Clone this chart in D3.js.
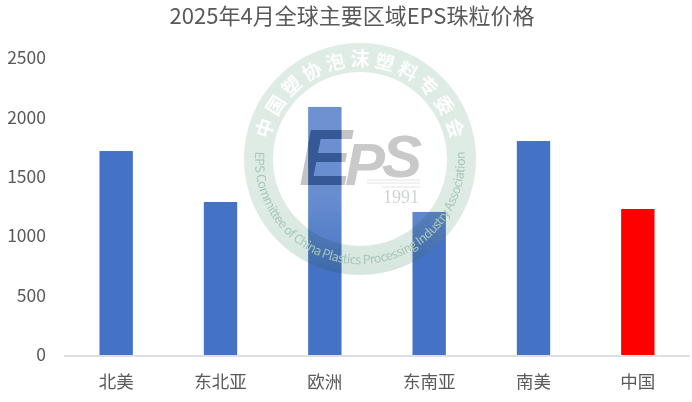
<!DOCTYPE html>
<html lang="zh">
<head>
<meta charset="utf-8">
<title>2025年4月全球主要区域EPS珠粒价格</title>
<script src="https://cdn.jsdelivr.net/npm/d3@7"></script>
<style>
	html, body { margin: 0; padding: 0; background: #fff; }
	svg { display: block; }
	text { font-family: "Noto Sans CJK SC", "Noto Sans", sans-serif; }
	.tick line, .domain { display: none; }
</style>
</head>
<body>
<div id="viz"></div>
<script>
const WIDTH = 692, HEIGHT = 402;
const margin = { top: 58, right: 2, bottom: 47, left: 64 };

const titleText = "2025年4月全球主要区域EPS珠粒价格";
const regions = ["北美", "东北亚", "欧洲", "东南亚", "南美", "中国"];
const prices = [1717, 1288, 2088, 1204, 1801, 1229];
const barColors = ["#4472c4", "#4472c4", "#4472c4", "#4472c4", "#4472c4", "#ff0000"];
const yTicks = [0, 500, 1000, 1500, 2000, 2500];

const svg = d3.select("#viz").append("svg")
	.attr("width", WIDTH)
	.attr("height", HEIGHT);

const x = d3.scaleBand()
	.domain(regions)
	.range([margin.left, WIDTH - margin.right])
	.paddingInner(0.68)
	.paddingOuter(0.34);

const y = d3.scaleLinear()
	.domain([0, 2500])
	.range([HEIGHT - margin.bottom, margin.top]);

svg.append("text")
	.attr("x", 352)
	.attr("y", 24)
	.attr("text-anchor", "middle")
	.attr("fill", "#595959")
	.style("font-size", "22px")
	.text(titleText);

// bars
svg.selectAll("rect.bar")
	.data(regions)
	.enter().append("rect")
	.attr("class", "bar")
	.attr("x", d => x(d))
	.attr("y", (d, i) => y(prices[i]))
	.attr("width", x.bandwidth())
	.attr("height", (d, i) => y(0) - y(prices[i]))
	.attr("fill", (d, i) => barColors[i]);

// axes
const yAxis = svg.append("g")
	.attr("transform", `translate(${margin.left},0)`)
	.call(d3.axisLeft(y).tickValues(yTicks).tickSize(0).tickPadding(18).tickFormat(d3.format("d")));
yAxis.selectAll("text")
	.attr("fill", "#595959")
	.style("font-size", "17.5px");

const xAxis = svg.append("g")
	.attr("transform", `translate(0,${y(0)})`)
	.call(d3.axisBottom(x).tickSize(0).tickPadding(21));
xAxis.selectAll("text")
	.attr("fill", "#595959")
	.style("font-size", "17.5px");

svg.append("line")
	.attr("x1", margin.left)
	.attr("x2", WIDTH - margin.right)
	.attr("y1", y(0) + 1)
	.attr("y2", y(0) + 1)
	.attr("stroke", "#d0d4da")
	.attr("stroke-width", 1.5);

// watermark logo
const cx = 360, cy = 159, rOuter = 116, rInner = 87;
const logo = svg.append("g").attr("transform", `translate(${cx},${cy})`);

const defs = svg.append("defs");
const fade = defs.append("linearGradient")
	.attr("id", "fade")
	.attr("x1", 0).attr("x2", 0).attr("y1", 0).attr("y2", 1);
fade.append("stop").attr("offset", "0%").attr("stop-color", "#fff").attr("stop-opacity", 0.24);
fade.append("stop").attr("offset", "65%").attr("stop-color", "#fff").attr("stop-opacity", 0.2);
fade.append("stop").attr("offset", "100%").attr("stop-color", "#fff").attr("stop-opacity", 0.02);

// the E keeps the bar dark under it, so the white veil skips it
const veilMask = defs.append("mask")
	.attr("id", "veil-mask")
	.attr("maskUnits", "userSpaceOnUse")
	.attr("x", -120).attr("y", -120).attr("width", 240).attr("height", 240);
veilMask.append("rect")
	.attr("x", -120).attr("y", -120).attr("width", 240).attr("height", 240)
	.attr("fill", "#fff");

function drawLetter(g, letter, lx, ly, size) {
	return g.append("text")
		.attr("x", lx).attr("y", ly)
		.style("font-family", "Liberation Sans")
		.style("font-size", size + "px")
		.style("font-weight", "700")
		.style("font-style", "italic")
		.text(letter);
}
drawLetter(veilMask, "E", -61, 26, 79).attr("fill", "#000");

// ring goes under the veil so it still reads on the bars
logo.append("path")
	.attr("d", d3.arc().innerRadius(rInner).outerRadius(rOuter).startAngle(0).endAngle(2 * Math.PI)())
	.attr("fill", "#d6e7df")
	.style("mix-blend-mode", "multiply");

logo.append("circle")
	.attr("r", rOuter)
	.attr("fill", "url(#fade)")
	.attr("mask", "url(#veil-mask)");

defs.append("path")
	.attr("id", "arcTop")
	.attr("d", "M -93 0 A 93 93 0 0 1 93 0");
defs.append("path")
	.attr("id", "arcBottom")
	.attr("d", "M -104.4 -11 A 105 105 0 1 0 104.4 -11");

logo.append("text")
	.attr("fill", "#fff")
	.attr("fill-opacity", 0.92)
	.style("font-size", "19px")
	.style("font-weight", "700")
	.append("textPath")
	.attr("href", "#arcTop")
	.attr("startOffset", "50%")
	.attr("text-anchor", "middle")
	.attr("textLength", 252)
	.text("中国塑协泡沫塑料专委会");

logo.append("text")
	.attr("fill", "#a9c7b9")
	.style("font-size", "12.5px")
	.append("textPath")
	.attr("href", "#arcBottom")
	.attr("startOffset", "50%")
	.attr("text-anchor", "middle")
	.attr("textLength", 345)
	.text("EPS Committee of China Plastics Processing Industry Association");

drawLetter(logo, "E", -61, 26, 79).attr("fill", "#c4c4c4").style("mix-blend-mode", "multiply");
drawLetter(logo, "P", -15, 26, 60).attr("fill", "#c9c9c9");
drawLetter(logo, "S", 22, 18, 60).attr("fill", "#c9c9c9");

logo.append("text")
	.attr("x", 23).attr("y", 44)
	.attr("fill", "#cfd3d1")
	.style("font-family", "Liberation Serif")
	.style("font-size", "18px")
	.text("1991");
logo.append("line")
	.attr("x1", 7).attr("x2", 60).attr("y1", 21).attr("y2", 21)
	.attr("stroke", "#e2e5e3");
logo.append("line")
	.attr("x1", 7).attr("x2", 60).attr("y1", 24).attr("y2", 24)
	.attr("stroke", "#e2e5e3");
logo.append("line")
	.attr("x1", 22).attr("x2", 60).attr("y1", 28).attr("y2", 28)
	.attr("stroke", "#e2e5e3");
</script>
</body>
</html>
